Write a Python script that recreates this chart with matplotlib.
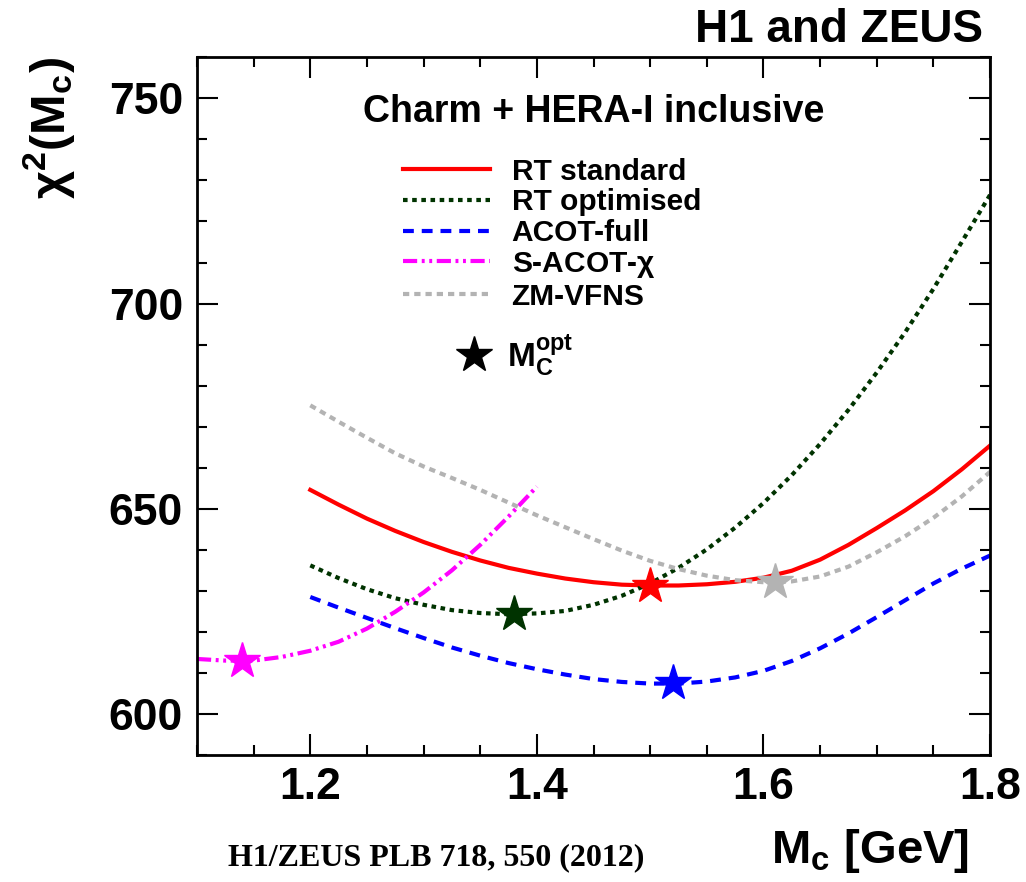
import numpy as np
import matplotlib
matplotlib.use("Agg")
import matplotlib.pyplot as plt
from matplotlib.lines import Line2D
from matplotlib.ticker import MultipleLocator, FormatStrFormatter

plt.rcParams['font.family'] = ['Liberation Sans', 'DejaVu Sans']
plt.rcParams['font.weight'] = 'bold'
plt.rcParams['mathtext.fontset'] = 'custom'
plt.rcParams['mathtext.rm'] = 'Liberation Sans:bold'
plt.rcParams['mathtext.bf'] = 'Liberation Sans:bold'
plt.rcParams['mathtext.it'] = 'Liberation Sans:italic:bold'
plt.rcParams['mathtext.default'] = 'bf'

# charm mass scan points [GeV]
mc = [1.200, 1.225, 1.250, 1.275, 1.300, 1.325, 1.350, 1.375, 1.400, 1.425, 1.450, 1.475, 1.500,
      1.525, 1.550, 1.575, 1.600, 1.625, 1.650, 1.675, 1.700, 1.725, 1.750, 1.775, 1.800]
mc_sacot = [1.100, 1.125, 1.150, 1.175, 1.200, 1.225, 1.250, 1.275, 1.300, 1.325, 1.350, 1.375, 1.400]

# chi2 of the fit vs. Mc for each scheme
rt_standard = [654.6, 651.0, 647.6, 644.6, 641.9, 639.5, 637.4, 635.6, 634.2, 633.0, 632.1, 631.5, 631.3,
               631.3, 631.6, 632.2, 633.2, 634.9, 637.6, 641.2, 645.3, 649.6, 654.3, 659.6, 665.4]
rt_optimised = [636.2, 633.1, 630.4, 628.2, 626.6, 625.3, 624.6, 624.3, 624.5, 625.1, 626.6, 628.8, 631.8,
                635.6, 640.1, 645.4, 651.4, 658.2, 665.8, 674.1, 683.2, 693.0, 703.6, 715.0, 726.5]
acot_full = [628.5, 625.9, 623.4, 620.9, 618.5, 616.2, 614.2, 612.4, 610.9, 609.6, 608.5, 607.8, 607.4,
             607.4, 607.9, 608.9, 610.5, 612.9, 616.0, 619.6, 623.6, 627.7, 631.8, 635.4, 638.6]
zm_vfns = [675.2, 671.2, 667.3, 663.5, 660.3, 657.5, 654.6, 651.5, 648.4, 645.5, 642.6, 639.8, 637.3,
           635.3, 633.7, 632.6, 632.1, 632.3, 633.5, 635.9, 639.4, 643.3, 647.8, 653.0, 659.0]
sacot_chi = [613.4, 613.0, 613.0, 613.9, 615.4, 617.6, 620.8, 624.9, 629.6, 635.0, 641.2, 648.1, 655.4]

# optimal Mc and chi2 at the minimum
mc_opt = [1.50, 1.38, 1.52, 1.14, 1.61]
chi2_opt = [631.3, 624.3, 607.5, 612.9, 632.1]

labels = ["RT standard", "RT optimised", "ACOT-full", "S-ACOT-$\\chi$", "ZM-VFNS"]
colors = ["#ff0000", "#003300", "#0000ff", "#ff00ff", "#b3b3b3"]
dashes = [None, (1.1, 1.1), (2.6, 1.9), (3.4, 1.1, 0.7, 1.1, 0.7, 1.1), (1.5, 1.2)]

fig = plt.figure(figsize=(10.26, 8.82), dpi=100)
ax = fig.add_axes([0.192, 0.144, 0.773, 0.791])

xs = [mc, mc, mc, mc_sacot, mc]
ys = [rt_standard, rt_optimised, acot_full, sacot_chi, zm_vfns]
handles = []
for x, y, c, d, lab in zip(xs, ys, colors, dashes, labels):
    ln, = ax.plot(x, y, color=c, lw=3, label=lab, zorder=2)
    if d is not None:
        ln.set_dashes(d)
    handles.append(ln)

for x, y, c in zip(mc_opt, chi2_opt, colors):
    ax.plot(x, y, marker='*', ms=27, color=c, ls='none', zorder=3)

ax.set_xlim(1.1, 1.8)
ax.set_ylim(590, 760)
ax.xaxis.set_major_locator(MultipleLocator(0.2))
ax.xaxis.set_minor_locator(MultipleLocator(0.05))
ax.yaxis.set_major_locator(MultipleLocator(50))
ax.yaxis.set_minor_locator(MultipleLocator(10))
ax.xaxis.set_major_formatter(FormatStrFormatter('%.1f'))
ax.tick_params(which='both', direction='in', top=True, right=True, width=1.5)
ax.tick_params(which='major', length=15)
ax.tick_params(which='minor', length=7.5)
ax.tick_params(axis='both', labelsize=32)
ax.tick_params(axis='x', pad=9)
ax.tick_params(axis='y', pad=10)
for s in ax.spines.values():
    s.set_linewidth(2)

leg = ax.legend(handles=handles, loc='upper left', bbox_to_anchor=(0.26, 0.856),
                frameon=False, fontsize=21.5, handlelength=2.9, handletextpad=0.73,
                labelspacing=0.09, borderpad=0, borderaxespad=0)
ax.add_artist(leg)
star = Line2D([], [], marker='*', ms=27, color='k', ls='none')
ax.legend(handles=[star], labels=[r"$M_C^{opt}$"], loc='upper left',
          bbox_to_anchor=(0.324, 0.606), frameon=False, fontsize=24,
          handlelength=1.2, handletextpad=0.4, borderpad=0, borderaxespad=0)

ax.text(0.5, 0.921, "Charm + HERA-I inclusive", transform=ax.transAxes,
        ha='center', va='center', fontsize=27)
fig.text(0.958, 0.966, "H1 and ZEUS", ha='right', va='center', fontsize=33)
fig.text(0.944, 0.035, "M$_c$ [GeV]", ha='right', va='center', fontsize=34)
fig.text(0.048, 0.935, "$\\chi^2$(M$_c$)", rotation=90, ha='center', va='top', fontsize=35)
fig.text(0.222, 0.027, "H1/ZEUS PLB 718, 550 (2012)", ha='left', va='center',
         fontsize=23, family='Liberation Serif', weight='bold')

fig.savefig("out.png", dpi=100)
